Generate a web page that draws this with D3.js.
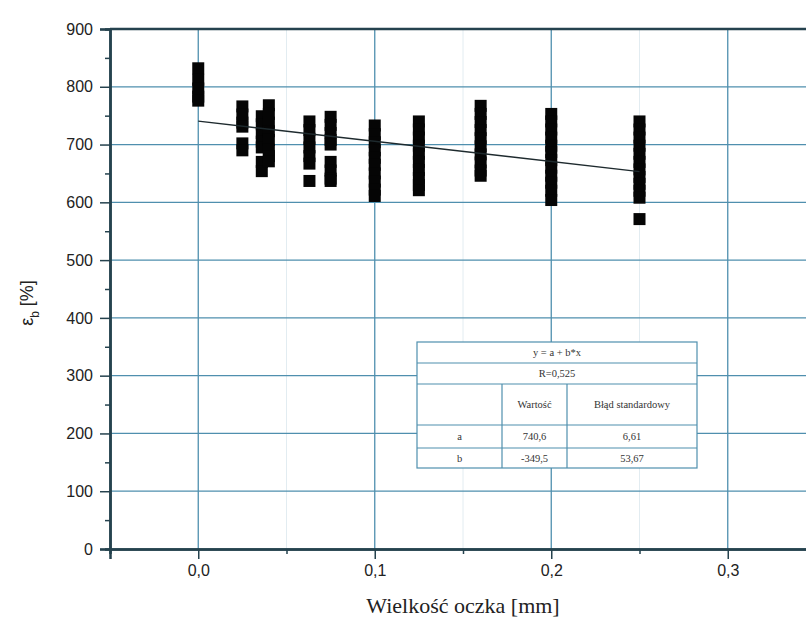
<!DOCTYPE html>
<html>
<head>
<meta charset="utf-8">
<script src="https://cdn.jsdelivr.net/npm/d3@7"></script>
<style>
  body { margin: 0; background: #fff; }
  svg { display: block; }
</style>
</head>
<body>
<svg id="chart"></svg>
<script>
// mesh size [mm] and elongation at break values for each mesh size
const meshSizes = [0, 0.025, 0.036, 0.040, 0.063, 0.075, 0.1, 0.125, 0.16, 0.2, 0.25];
const elongation = [
    [832, 812, 797, 783, 776],
    [766, 752, 738, 731, 702, 690],
    [749, 735, 720, 705, 695, 670, 654],
    [768, 753, 738, 723, 708, 691, 680, 671],
    [740, 725, 710, 695, 680, 667, 637],
    [748, 734, 720, 708, 700, 670, 655, 641, 637],
    [733, 718, 704, 690, 677, 665, 650, 636, 622, 611],
    [740, 726, 712, 698, 684, 670, 656, 642, 630, 621],
    [767, 753, 739, 725, 711, 697, 683, 669, 655, 646],
    [753, 740, 726, 712, 698, 687, 673, 660, 646, 634, 620, 604],
    [740, 726, 712, 698, 684, 670, 657, 644, 632, 620, 608, 571]
];

// linear fit y = a + b*x
const fitA = 740.6;
const fitB = -349.5;
const fitRange = [0, 0.25];

const xTicks = [0, 0.1, 0.2, 0.3];
const xMinorTicks = [-0.05, 0.05, 0.15, 0.25, 0.35];
const yTicks = [0, 100, 200, 300, 400, 500, 600, 700, 800, 900];
const yMinorTicks = [50, 150, 250, 350, 450, 550, 650, 750, 850];

const tableTitle = "y = a + b*x";
const tableR = "R=0,525";
const tableHeader = ["", "Wartość", "Błąd standardowy"];
const tableRows = [["a", "740,6", "6,61"], ["b", "-349,5", "53,67"]];

let width = 806
let height = 630

let svg = d3.select("#chart")
    .attr("width", width)
    .attr("height", height)

let x = d3.scaleLinear().domain([-0.05, 0.35]).range([110, 816])
let y = d3.scaleLinear().domain([0, 900]).range([549, 29])

let axisColor = "#25424e"
let gridColor = "#4f8fae"
let fmt = d => d3.format(".1f")(d).replace(".", ",")

// faint minor grid
svg.append("g")
    .selectAll("line")
    .data(xMinorTicks.filter(d => d > -0.05 && d < 0.35))
    .enter()
    .append("line")
    .attr("x1", d => x(d)).attr("x2", d => x(d))
    .attr("y1", y(900)).attr("y2", y(0))
    .attr("stroke", "#e2ecf1")
    .attr("stroke-width", 1)

// major grid
svg.append("g")
    .selectAll("line")
    .data(xTicks)
    .enter()
    .append("line")
    .attr("x1", d => x(d)).attr("x2", d => x(d))
    .attr("y1", y(900)).attr("y2", y(0))
    .attr("stroke", gridColor)
    .attr("stroke-width", 1.3)

svg.append("g")
    .selectAll("line")
    .data(yTicks.filter(d => d > 0 && d < 900))
    .enter()
    .append("line")
    .attr("x1", x(-0.05)).attr("x2", x(0.35))
    .attr("y1", d => y(d)).attr("y2", d => y(d))
    .attr("stroke", gridColor)
    .attr("stroke-width", 1.3)

// axes
let xAxis = svg.append("g")
    .attr("transform", "translate(0," + y(0) + ")")
    .call(d3.axisBottom(x).tickValues(xTicks).tickFormat(fmt).tickSize(10).tickPadding(6))
let xMinor = svg.append("g")
    .attr("transform", "translate(0," + y(0) + ")")
    .call(d3.axisBottom(x).tickValues(xMinorTicks).tickFormat("").tickSize(5))
let yAxis = svg.append("g")
    .attr("transform", "translate(" + x(-0.05) + ",0)")
    .call(d3.axisLeft(y).tickValues(yTicks).tickSize(10).tickPadding(7))
let yMinor = svg.append("g")
    .attr("transform", "translate(" + x(-0.05) + ",0)")
    .call(d3.axisLeft(y).tickValues(yMinorTicks).tickFormat("").tickSize(5))

for (let g of [xAxis, xMinor, yAxis, yMinor]) {
    g.select(".domain").attr("stroke", axisColor).attr("stroke-width", 2.5)
    g.selectAll(".tick line").attr("stroke", axisColor).attr("stroke-width", 1.5)
    g.selectAll("text")
        .attr("fill", "#222")
        .style("font-family", "'Liberation Sans', Arial, sans-serif")
        .style("font-size", "16px")
}

// top frame
svg.append("line")
    .attr("x1", x(-0.05)).attr("x2", x(0.35))
    .attr("y1", y(900)).attr("y2", y(900))
    .attr("stroke", axisColor)
    .attr("stroke-width", 2.5)

// data points: black squares
let points = []
meshSizes.forEach((m, i) => elongation[i].forEach(v => points.push({ x: m, y: v })))
let size = 12
svg.append("g")
    .selectAll("rect")
    .data(points)
    .enter()
    .append("rect")
    .attr("x", d => x(d.x) - size / 2)
    .attr("y", d => y(d.y) - size / 2)
    .attr("width", size)
    .attr("height", size)
    .attr("fill", "#050505")

// fitted line
svg.append("line")
    .attr("x1", x(fitRange[0])).attr("y1", y(fitA + fitB * fitRange[0]))
    .attr("x2", x(fitRange[1])).attr("y2", y(fitA + fitB * fitRange[1]))
    .attr("stroke", "#1e2a2e")
    .attr("stroke-width", 1.4)

// fit table
let tx = 417, ty = 342
let tw = 280
let rowY = [342, 363, 384, 425, 448, 468]
let colX = [417, 502, 567, 697]
let table = svg.append("g")
table.append("rect")
    .attr("x", tx).attr("y", ty)
    .attr("width", tw).attr("height", rowY[5] - ty)
    .attr("fill", "#fff")
    .attr("stroke", gridColor)
    .attr("stroke-width", 1.2)
table.selectAll("line.row")
    .data(rowY.slice(1, 5))
    .enter()
    .append("line")
    .attr("x1", colX[0]).attr("x2", colX[3])
    .attr("y1", d => d).attr("y2", d => d)
    .attr("stroke", gridColor)
    .attr("stroke-width", 1.2)
table.selectAll("line.col")
    .data(colX.slice(1, 3))
    .enter()
    .append("line")
    .attr("x1", d => d).attr("x2", d => d)
    .attr("y1", rowY[2]).attr("y2", rowY[5])
    .attr("stroke", gridColor)
    .attr("stroke-width", 1.2)

let cellText = (txt, cx, cy) => table.append("text")
    .text(txt)
    .attr("x", cx).attr("y", cy)
    .attr("text-anchor", "middle")
    .attr("dominant-baseline", "central")
    .attr("fill", "#333")
    .style("font-family", "'Liberation Serif', 'Times New Roman', serif")
    .style("font-size", "10.5px")

cellText(tableTitle, (colX[0] + colX[3]) / 2, (rowY[0] + rowY[1]) / 2)
cellText(tableR, (colX[0] + colX[3]) / 2, (rowY[1] + rowY[2]) / 2)
tableHeader.forEach((h, i) => cellText(h, (colX[i] + colX[i + 1]) / 2, (rowY[2] + rowY[3]) / 2))
tableRows.forEach((r, j) => r.forEach((c, i) => cellText(c, (colX[i] + colX[i + 1]) / 2, (rowY[3 + j] + rowY[4 + j]) / 2)))

// axis titles
svg.append("text")
    .text("Wielkość oczka [mm]")
    .attr("x", 463).attr("y", 613)
    .attr("text-anchor", "middle")
    .attr("fill", "#222")
    .style("font-family", "'Liberation Serif', 'Times New Roman', serif")
    .style("font-size", "22px")

let yTitle = svg.append("text")
    .attr("transform", "translate(33,303) rotate(-90)")
    .attr("text-anchor", "middle")
    .attr("fill", "#222")
    .style("font-family", "'Liberation Sans', Arial, sans-serif")
    .style("font-size", "18px")
yTitle.append("tspan").text("ε")
yTitle.append("tspan").text("b").attr("dy", 6).style("font-size", "12px")
yTitle.append("tspan").text(" [%]").attr("dy", -6)
</script>
</body>
</html>
